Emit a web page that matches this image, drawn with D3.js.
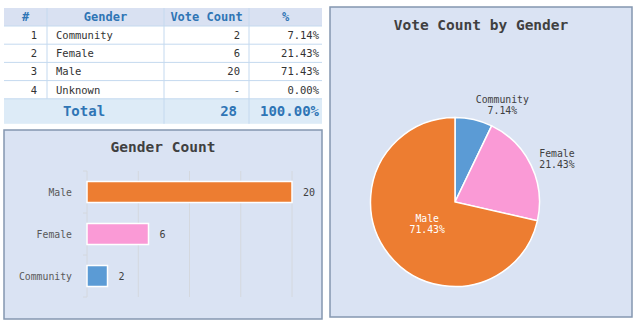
<!DOCTYPE html>
<html>
<head>
<meta charset="utf-8">
<script src="https://cdn.jsdelivr.net/npm/d3@7"></script>
<style>
  html, body { margin: 0; padding: 0; background: #ffffff; }
  svg { display: block; font-family: "DejaVu Sans Mono", "Liberation Mono", monospace; }
</style>
</head>
<body>
<svg id="dash" width="640" height="326"></svg>
<script>
// Vote tallies by gender
const genders = ["Community", "Female", "Male", "Unknown"];
const votes = [2, 6, 20, 0];
const sliceColors = { Community: "#5b9bd5", Female: "#fa9ad6", Male: "#ed7d31" };
const barOrder = ["Male", "Female", "Community"];
const barTicks = [5, 10, 15, 20];
const tableHeaders = ["#", "Gender", "Vote Count", "%"];

const total = d3.sum(votes);
const rows = genders.map((g, i) => ({ idx: i + 1, gender: g, votes: votes[i], pct: votes[i] / total * 100 }));
const fmtPct = v => v.toFixed(2) + "%";

const svg = d3.select("#dash");

// ---------- summary table ----------
const colX = [4, 47, 164, 249, 322];
const headerTop = 8, rowH = 18.2, headerH = 18;
const tbl = svg.append("g");
const bodyTop = headerTop + headerH;
const totalTop = bodyTop + rows.length * rowH;
const totalH = 25;

tbl.append("rect").attr("x", colX[0]).attr("y", headerTop).attr("width", colX[4] - colX[0]).attr("height", headerH).attr("fill", "#d9e1f2");
tbl.append("rect").attr("x", colX[0]).attr("y", totalTop).attr("width", colX[4] - colX[0]).attr("height", totalH).attr("fill", "#ddebf7");

// column separators
tbl.selectAll("line.col").data(colX.slice(1, 4)).join("line")
  .attr("x1", d => d).attr("x2", d => d)
  .attr("y1", headerTop).attr("y2", d => d === colX[1] ? totalTop : totalTop + totalH)
  .attr("stroke", "#c4d9ef").attr("stroke-width", 1);
// row separators
tbl.selectAll("line.row").data(d3.range(rows.length + 1)).join("line")
  .attr("x1", colX[0]).attr("x2", colX[4])
  .attr("y1", i => bodyTop + i * rowH).attr("y2", i => bodyTop + i * rowH)
  .attr("stroke", "#c4d9ef").attr("stroke-width", 1);

tbl.selectAll("text.hdr").data(tableHeaders).join("text")
  .attr("x", (d, i) => (colX[i] + colX[i + 1]) / 2)
  .attr("y", headerTop + 13)
  .attr("text-anchor", "middle")
  .attr("font-size", 12).attr("font-weight", "bold").attr("fill", "#2f75b5")
  .text(d => d);

const rowG = tbl.selectAll("g.r").data(rows).join("g")
  .attr("transform", (d, i) => `translate(0,${bodyTop + i * rowH + 13})`)
  .attr("font-size", 10.5).attr("fill", "#333333");
rowG.append("text").attr("x", 37).attr("text-anchor", "end").text(d => d.idx);
rowG.append("text").attr("x", 56).text(d => d.gender);
rowG.append("text").attr("x", 240).attr("text-anchor", "end").text(d => d.votes === 0 ? "-" : d.votes);
rowG.append("text").attr("x", 319).attr("text-anchor", "end").text(d => fmtPct(d.pct));

const totG = tbl.append("g").attr("font-size", 14).attr("font-weight", "bold").attr("fill", "#2f75b5");
totG.append("text").attr("x", (colX[0] + colX[2]) / 2).attr("y", totalTop + 17).attr("text-anchor", "middle").text("Total");
totG.append("text").attr("x", 237).attr("y", totalTop + 17).attr("text-anchor", "end").text(total);
totG.append("text").attr("x", 319).attr("y", totalTop + 17).attr("text-anchor", "end").text(fmtPct(100));

// ---------- bar chart panel ----------
const barPanel = { x: 4, y: 130, w: 318, h: 189 };
svg.append("rect").attr("x", barPanel.x).attr("y", barPanel.y).attr("width", barPanel.w).attr("height", barPanel.h)
  .attr("fill", "#dae3f3").attr("stroke", "#8497b0").attr("stroke-width", 1.5);
svg.append("text").attr("x", barPanel.x + barPanel.w / 2).attr("y", 152)
  .attr("text-anchor", "middle").attr("font-size", 14.5).attr("font-weight", "bold").attr("fill", "#404040")
  .text("Gender Count");

const x = d3.scaleLinear().domain([0, 20]).range([87, 292]);
const y = d3.scaleBand().domain(barOrder).range([171, 297]).paddingInner(0.5).paddingOuter(0.25);
const voteOf = g => votes[genders.indexOf(g)];

// gridlines
svg.append("g").selectAll("line").data(barTicks).join("line")
  .attr("x1", d => x(d)).attr("x2", d => x(d)).attr("y1", 171).attr("y2", 297)
  .attr("stroke", "#d4d8de").attr("stroke-width", 1);
// category axis with ticks at band edges
const yAxis = svg.append("g").attr("transform", `translate(${x(0)},0)`);
yAxis.append("line").attr("x1", 0).attr("x2", 0).attr("y1", 171).attr("y2", 297).attr("stroke", "#d4d8de");
yAxis.selectAll("line.tk").data(d3.range(barOrder.length + 1)).join("line")
  .attr("x1", -4).attr("x2", 0)
  .attr("y1", i => 171 + i * y.step()).attr("y2", i => 171 + i * y.step())
  .attr("stroke", "#d4d8de");

svg.append("g").selectAll("rect").data(barOrder).join("rect")
  .attr("x", x(0)).attr("y", d => y(d))
  .attr("width", d => x(voteOf(d)) - x(0)).attr("height", y.bandwidth())
  .attr("fill", d => sliceColors[d]).attr("stroke", "#ffffff").attr("stroke-width", 1.5);

svg.append("g").selectAll("text").data(barOrder).join("text")
  .attr("x", 72).attr("y", d => y(d) + y.bandwidth() / 2 + 3.5)
  .attr("text-anchor", "end").attr("font-size", 9.8).attr("fill", "#595959")
  .text(d => d);

svg.append("g").selectAll("text").data(barOrder).join("text")
  .attr("x", d => x(voteOf(d)) + 11).attr("y", d => y(d) + y.bandwidth() / 2 + 3.5)
  .attr("font-size", 10).attr("fill", "#404040")
  .text(d => voteOf(d));

// ---------- pie chart panel ----------
const piePanel = { x: 330, y: 7, w: 302, h: 310 };
svg.append("rect").attr("x", piePanel.x).attr("y", piePanel.y).attr("width", piePanel.w).attr("height", piePanel.h)
  .attr("fill", "#dae3f3").attr("stroke", "#8497b0").attr("stroke-width", 1.5);
svg.append("text").attr("x", piePanel.x + piePanel.w / 2).attr("y", 30)
  .attr("text-anchor", "middle").attr("font-size", 14.5).attr("font-weight", "bold").attr("fill", "#404040")
  .text("Vote Count by Gender");

const cx = 455, cy = 202, r = 84.5;
const pieData = rows.filter(d => d.votes > 0);
const arcs = d3.pie().sort(null).value(d => d.votes)(pieData);
const arc = d3.arc().innerRadius(0).outerRadius(r);
const pg = svg.append("g").attr("transform", `translate(${cx},${cy})`);
pg.selectAll("path").data(arcs).join("path")
  .attr("d", arc).attr("fill", d => sliceColors[d.data.gender])
  .attr("stroke", "#ffffff").attr("stroke-width", 1.5);

arcs.forEach(a => {
  const mid = (a.startAngle + a.endAngle) / 2;
  const s = Math.sin(mid), c = Math.cos(mid);
  const inside = a.data.pct > 50;
  const lab = pg.append("text").attr("text-anchor", "middle").attr("font-size", 9.8)
    .attr("fill", inside ? "#ffffff" : "#404040");
  lab.append("tspan").attr("x", 0).attr("dy", 0).text(a.data.gender);
  lab.append("tspan").attr("x", 0).attr("dy", 11).text(fmtPct(a.data.pct));
  const bb = lab.node().getBBox();
  let bx, by;
  if (inside) {
    const d = r * 0.42;
    bx = d * s; by = -d * c;
  } else {
    const d = r + 4;
    const px = d * s, py = -d * c;
    bx = px + Math.sign(s) * bb.width / 2 + s * 5;
    by = py - c * bb.height / 2;
  }
  // shift so the text block's centre lands on (bx, by)
  const ox = bx - (bb.x + bb.width / 2), oy = by - (bb.y + bb.height / 2);
  lab.attr("transform", `translate(${ox},${oy})`);
});
</script>
</body>
</html>
